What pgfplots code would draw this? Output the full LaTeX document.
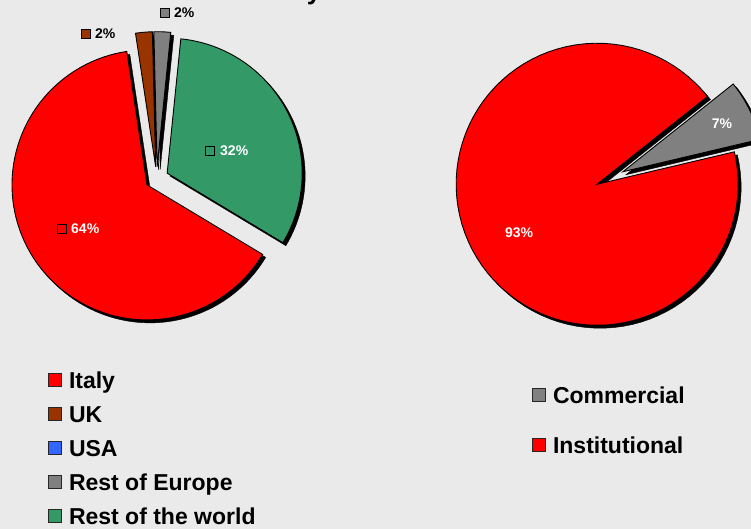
\documentclass[border=0pt]{standalone}
\usepackage{fontspec}
\setmainfont{Liberation Sans}
\usepackage{pgfplots}
\pgfplotsset{compat=1.18}

\definecolor{bg}{HTML}{EAEAEA}
\definecolor{itred}{HTML}{FF0000}
\definecolor{ukbrown}{HTML}{993300}
\definecolor{usblue}{HTML}{3366FF}
\definecolor{eugrey}{HTML}{808080}
\definecolor{rwgreen}{HTML}{339966}

% one exploded slice with its drop shadow
% #1 cx, #2 cy, #3 radius, #4 start angle, #5 end angle, #6 explode, #7 colour
\newcommand\slice[7]{%
  \pgfmathsetmacro\mid{((#4)+(#5))/2}%
  \pgfmathsetmacro\vx{#1+#6*cos(\mid)}%
  \pgfmathsetmacro\vy{#2+#6*sin(\mid)}%
  \pgfmathsetmacro\sx{\vx+3}%
  \pgfmathsetmacro\sy{\vy-3}%
  \edef\doslice{%
    \noexpand\addplot[forget plot, draw=black, fill=black, domain={#4}:{#5}, samples=90]
      ({\sx+#3*cos(x)}, {\sy+#3*sin(x)}) -- (axis cs:\sx,\sy) -- cycle;
    \noexpand\addplot[forget plot, draw=black, line width=0.9pt, fill=#7, domain={#4}:{#5}, samples=90]
      ({\vx+#3*cos(x)}, {\vy+#3*sin(x)}) -- (axis cs:\vx,\vy) -- cycle;
  }\doslice}

\tikzset{pct/.style={font=\bfseries\fontsize{14}{16}\selectfont, inner sep=0pt}}

\pgfplotsset{
  pieaxis/.style={
    width=751pt, height=529pt, scale only axis,
    at={(0pt,0pt)}, anchor=south west,
    xmin=0, xmax=751, ymin=0, ymax=529,
    hide axis,
    legend image code/.code={\draw[##1, line width=0.8pt, draw=black!85] (0pt,-3.5pt) rectangle (13pt,9.5pt);},
  },
}

\begin{document}
\begin{tikzpicture}
\fill[bg] (0pt,0pt) rectangle (751pt,529pt);

% left pie: share by country (%), clockwise from -31 deg
\begin{axis}[pieaxis,
  legend style={at={(axis cs:48,157)}, anchor=north west, draw=none, fill=none,
    inner sep=0pt, row sep=13pt, column sep=7pt,
    font=\bfseries\fontsize{23}{27}\selectfont,
    nodes={inner sep=0pt, text height=16pt, text depth=5pt}},
  legend cell align=left]
\slice{156.7}{350.6}{135}{-31-3.6*64}{-31}{11.7}{itred}          % Italy 64
\slice{156.7}{350.6}{135}{-31-3.6*66}{-31-3.6*64}{11.7}{ukbrown} % UK 2
\slice{156.7}{350.6}{135}{-31-3.6*68}{-31-3.6*66}{11.7}{eugrey}  % Rest of Europe 2
\slice{156.7}{350.6}{135}{-31-3.6*100}{-31-3.6*68}{11.7}{rwgreen}% Rest of the world 32

\draw[fill=eugrey, line width=0.8pt] (axis cs:160.5,511.5) rectangle (axis cs:169.5,520.5);
\node[pct, anchor=west] at (axis cs:174,516) {2\%};
\draw[fill=ukbrown, line width=0.8pt] (axis cs:81.5,490.5) rectangle (axis cs:90.5,499.5);
\node[pct, anchor=west] at (axis cs:95,495) {2\%};
\draw[fill=rwgreen, line width=0.8pt] (axis cs:205.5,373.5) rectangle (axis cs:214.5,382.5);
\node[pct, anchor=west, white] at (axis cs:220,378) {32\%};
\draw[fill=itred, line width=0.8pt] (axis cs:57.5,295.5) rectangle (axis cs:66.5,304.5);
\node[pct, anchor=west, white] at (axis cs:71,300) {64\%};

\addlegendimage{fill=itred}\addlegendentry{Italy}
\addlegendimage{fill=ukbrown}\addlegendentry{UK}
\addlegendimage{fill=usblue}\addlegendentry{USA}
\addlegendimage{fill=eugrey}\addlegendentry{Rest of Europe}
\addlegendimage{fill=rwgreen}\addlegendentry{Rest of the world}
\end{axis}

% right pie: share by customer type (%), clockwise from 38.5 deg
\begin{axis}[pieaxis,
  legend style={at={(axis cs:532,142)}, anchor=north west, draw=none, fill=none,
    inner sep=0pt, row sep=29pt, column sep=7pt,
    font=\bfseries\fontsize{23}{27}\selectfont,
    nodes={inner sep=0pt, text height=16pt, text depth=5pt}},
  legend cell align=left]
\slice{610}{351}{141}{38.5-3.6*7}{38.5}{14.3}{eugrey}    % Commercial 7
\slice{610}{351}{141}{38.5-3.6*100}{38.5-3.6*7}{14.3}{itred} % Institutional 93

\node[pct, white] at (axis cs:722,405) {7\%};
\node[pct, white] at (axis cs:519,296) {93\%};

\addlegendimage{fill=eugrey}\addlegendentry{Commercial}
\addlegendimage{fill=itred}\addlegendentry{Institutional}
\end{axis}

\node[anchor=base, font=\bfseries\fontsize{26}{30}\selectfont] at (314pt,529pt) {y};

\pgfresetboundingbox
\useasboundingbox (0pt,0pt) rectangle (751pt,529pt);
\end{tikzpicture}
\end{document}
